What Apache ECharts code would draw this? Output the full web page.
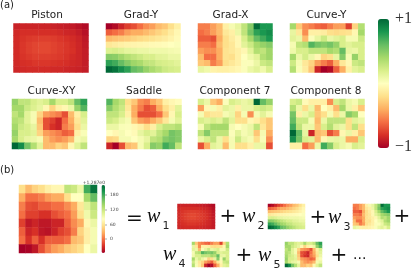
<!DOCTYPE html>
<html><head><meta charset="utf-8">
<style>html,body{margin:0;padding:0;background:#fff}#c{width:415px;height:268px;filter:blur(0.45px)}</style>
<script src="https://cdn.jsdelivr.net/npm/echarts@6/dist/echarts.min.js"></script>
</head><body><div id="c"></div>
<script>
const colours=['#a50026','#d73027','#f46d43','#fdae61','#fee08b','#ffffbf','#d9ef8b','#a6d96a','#66bd63','#1a9850','#006837'];
const panelTitles=['Piston','Grad-Y','Grad-X','Curve-Y','Curve-XY','Saddle','Component 7','Component 8'];
const colourbarTicks=['180','120','60','0'];
const piston=[
[-.86,-.85,-.85,-.85,-.85,-.85,-.86,-.87,-.88,-.89,-.92,-.95],
[-.83,-.81,-.81,-.81,-.81,-.81,-.81,-.82,-.84,-.85,-.88,-.93],
[-.82,-.79,-.77,-.76,-.75,-.75,-.76,-.78,-.8,-.82,-.85,-.9],
[-.82,-.78,-.75,-.73,-.72,-.72,-.74,-.76,-.78,-.81,-.84,-.89],
[-.82,-.78,-.75,-.73,-.72,-.72,-.74,-.76,-.78,-.8,-.84,-.88],
[-.82,-.79,-.77,-.75,-.75,-.75,-.76,-.77,-.79,-.82,-.84,-.88],
[-.83,-.81,-.8,-.78,-.78,-.78,-.79,-.8,-.81,-.83,-.84,-.88],
[-.84,-.83,-.82,-.82,-.82,-.82,-.83,-.83,-.84,-.85,-.86,-.88]];
const gradY=[
[-1,-.95,-.85,-.75,-.7,-.6,-.5,-.45,-.35,-.3,-.2,-.1],
[-.65,-.6,-.55,-.45,-.4,-.4,-.35,-.3,-.25,-.2,-.12,-.05],
[-.35,-.32,-.3,-.28,-.25,-.22,-.2,-.18,-.15,-.12,-.08,-.03],
[-.15,-.12,-.1,-.08,-.07,-.06,-.05,-.04,-.03,-.02,0,.02],
[.18,.2,.17,.13,.12,.1,.1,.08,.08,.08,.06,.05],
[.5,.48,.42,.35,.3,.25,.2,.2,.15,.14,.1,.1],
[.75,.7,.6,.5,.42,.38,.3,.28,.22,.2,.18,.15],
[1,.95,.85,.75,.6,.55,.45,.38,.32,.25,.22,.2]];
const gradX=[
[-.55,-.55,-.45,-.35,-.1,.05,.12,.3,.5,.98,.8,.8],
[-.6,-.55,-.45,-.35,-.15,-.1,.1,.3,.55,.75,.8,.85],
[-.65,-.65,-.7,-.4,-.2,-.12,-.05,.2,.4,.6,.7,.8],
[-.55,-.55,-.6,-.35,-.2,-.15,-.05,.15,.25,.4,.45,.5],
[-.45,-.5,-.5,-.4,-.18,-.15,-.1,-.05,.15,.35,.3,.42],
[-.35,-.6,-.6,-.4,-.18,-.2,-.1,0,.08,.15,.35,.42],
[-.3,-.35,-.55,-.45,-.2,-.15,-.1,.02,.02,.1,.25,.3],
[.12,.08,-.08,-.1,-.1,-.08,-.05,.02,.1,.15,.08,.2]];
const curveY=[
[.4,-.3,-.5,-.55,-.62,-.65,-.55,-.45,-.45,-.75,-.25,.35],
[.12,-.15,-.5,-.1,-.1,-.12,-.2,-.22,-.2,-.18,-.05,.4],
[.15,.1,-.35,.02,.12,.25,.1,.15,.2,.05,.05,.25],
[.05,.3,.35,.65,.55,.5,.55,.45,.2,.15,.2,.2],
[.08,.2,.2,.3,.3,.3,.4,.35,.6,.12,.1,.2],
[.4,.1,.22,.1,-.05,-.25,-.2,.12,.5,.05,.45,.2],
[.25,.05,-.15,-.25,-.45,-.55,-.65,-.4,-.15,-.05,.25,.3],
[.35,.03,-.12,-.3,-.85,-1,-.95,-.65,-.4,-.1,.15,.2]];
const curveXY=[
[.45,.3,.3,.2,.15,.2,.4,.2,.2,.3,.6,.75],
[.4,.4,.25,.18,.12,-.05,-.25,-.1,-.05,.1,.45,.65],
[.3,.4,.15,.05,-.25,-.45,-.5,-.55,-.7,-.35,-.1,.2],
[.35,.3,.15,.05,-.35,-.7,-.75,-.85,-.6,-.4,-.15,.15],
[.4,.25,.2,.12,-.3,-.7,-.8,-.85,-.55,-.45,-.2,.1],
[.45,.2,.2,.15,-.25,-.45,-.5,-.55,-.65,-.6,-.1,.03],
[.4,.2,.12,.1,.05,-.35,-.45,-.5,-.45,-.35,.05,.1],
[1,.85,.55,.35,.15,-.35,-.35,-.25,-.3,-.05,.15,.3]];
const saddle=[
[.65,.4,.3,-.2,-.3,-.5,-.55,-.4,-.3,-.1,-.05,-.02],
[.5,.35,.25,-.15,-.4,-.55,-.7,-.65,-.4,-.2,-.1,.15],
[.3,.3,.2,-.1,-.4,-.7,-.7,-.7,-.6,-.3,-.05,.2],
[.25,.2,.1,.05,-.3,-.45,-.5,-.4,-.3,-.15,.05,.15],
[.1,.1,.03,.02,-.05,-.1,-.2,-.1,.2,.3,.3,.35],
[0,-.05,.05,0,-.03,.12,.2,.15,.3,.4,.55,.5],
[-.25,-.22,.05,.05,0,.05,.12,.3,.35,.5,.55,.5],
[-.85,-1,-.7,-.35,-.3,.05,.2,.5,.45,.7,.6,.3]];
const component7=[
[.2,.1,-.3,-.4,.02,.2,.15,.1,.15,1,.6,.45],
[-.45,-.05,.05,-.1,.15,.1,-.1,.1,.1,.2,.25,.2],
[.05,-.2,-.15,-.15,.05,.1,-.25,.05,-.5,.05,.15,.05],
[.2,.15,.2,.15,.3,.15,-.2,-.2,-.05,-.1,-.2,-.3],
[.05,.3,.4,.4,.4,.05,0,.05,.1,.3,-.15,-.3],
[.3,.5,.3,.3,.3,.02,.15,.05,.1,-.3,.05,-.4],
[.1,.2,.3,.1,-.2,.05,.25,.1,.05,-.2,.03,-.5],
[-.7,-.4,.15,.1,-.35,.05,-.2,-.2,-.1,.1,.1,-.7]];
const component8=[
[.2,.25,-.03,-.1,-.1,-.1,-.5,.2,.3,.1,.05,.2],
[.35,.1,-.2,.1,-.35,0,-.1,-.35,.4,.1,-.1,-.3],
[.55,-.1,.1,.2,-.3,-.2,.05,-.2,.1,.5,.4,0],
[.6,.25,.25,.05,-.35,.1,.3,.3,.3,-.2,.15,.1],
[.7,.3,.1,.1,-.3,.2,.35,.15,.1,-.2,.3,-.2],
[1,.6,.12,-.85,-.35,-.3,-.7,-.55,-.05,.1,-.1,-.3],
[.85,.55,.2,.15,-.35,-.05,.1,.12,.1,-.4,-.4,.2],
[-.1,-.1,-.6,-.45,.1,.7,.5,.2,.1,.05,.2,.15]];
const field=[
[54,33,47,54,68,75,75,124,117,96,179,214],
[26,-1,-1,6,19,26,26,54,82,82,138,165],
[6,-15,-18,-8,-8,-1,-1,12,26,61,103,124],
[-1,-22,-22,-29,-29,-15,-8,-1,19,54,93,117],
[-22,-43,-36,-43,-43,-36,-36,-8,12,26,75,96],
[-8,-36,-29,-43,-46,-36,-22,-15,6,47,68,89],
[-1,-29,-8,-29,-8,-8,-8,-1,33,40,68,89],
[-57,-54,-43,-15,6,19,26,40,47,54,82,96]];

const panels=[
 {m:piston,x:13.5,y:23.5,w:75,h:49},{m:gradY,x:106,y:23.5,w:74.5,h:49},{m:gradX,x:198,y:23.5,w:74.5,h:49},{m:curveY,x:290,y:23.5,w:74.5,h:49},
 {m:curveXY,x:12,y:99,w:75,h:50},{m:saddle,x:106.5,y:99,w:75,h:50},{m:component7,x:198,y:99,w:74.5,h:50},{m:component8,x:290,y:99,w:74.5,h:50},
 {m:piston,x:177.5,y:204,w:37.5,h:25},{m:gradY,x:268,y:204,w:37,h:25},{m:gradX,x:353,y:204,w:37,h:25},
 {m:curveY,x:192,y:242,w:37,h:25},{m:curveXY,x:285,y:242,w:37,h:25},
 {m:field,x:19,y:185,w:78,h:68}
];
const idx=Array.from({length:12},(_,i)=>i), idy=Array.from({length:8},(_,i)=>i);
const grid=[],xAxis=[],yAxis=[],series=[];
panels.forEach((p,i)=>{
 grid.push({left:p.x,top:p.y,width:p.w,height:p.h,show:false});
 xAxis.push({type:'category',gridIndex:i,data:idx,show:false});
 yAxis.push({type:'category',gridIndex:i,data:idy,inverse:true,show:false});
 const d=[];p.m.forEach((r,y)=>r.forEach((v,x)=>d.push([x,y,v])));
 series.push({type:'heatmap',xAxisIndex:i,yAxisIndex:i,data:d,silent:true,animation:false,progressive:0,emphasis:{disabled:true}});
});
const T=(text,x,y,size,o={})=>({type:'text',x,y,silent:true,style:Object.assign({text,fill:'#222',font:`${o.italic?'italic ':''}${size}px ${o.fam||'"DejaVu Sans"'}`,textAlign:o.a||'left',textVerticalAlign:'middle'},o.s||{})});
const gfx=[T('(a)',0,5,10),T('(b)',0,170,10)];
[[47,15],[141,15],[230.5,15],[326.5,15],[51.5,91.5],[144,91.5],[235,91.5],[326,91.5]].forEach((p,i)=>gfx.push(T(panelTitles[i],p[0],p[1],10.5,{a:'center'})));
gfx.push(T('+1',395,19,16,{fam:'"Liberation Serif"',s:{fill:'#333'}}),T('\u22121',395,147,16,{fam:'"Liberation Serif"',s:{fill:'#333'}}));
[195,210,225,239].forEach((y,i)=>{gfx.push({type:'line',silent:true,shape:{x1:105,y1:y,x2:107,y2:y},style:{stroke:'#555',lineWidth:.5}});gfx.push(T(colourbarTicks[i],110,y,4.5,{s:{fill:'#444'}}));});
gfx.push(T('+1.287e0',105,182.5,4.5,{a:'right',s:{fill:'#444'}}));
const M='"Liberation Serif"';
const W=(x,y,n)=>[T('w',x,y,20,{italic:true,fam:M,s:{fill:'#111'}}),T(n,x+15.5,y+9,11,{fam:'"DejaVu Sans"',s:{fill:'#222'}})];
const P=(x,y)=>T('+',x,y,20,{a:'center',s:{fill:'#111'}});
gfx.push(T('=',134.5,219,20,{a:'center',s:{fill:'#111'}}),...W(147,217,'1'),P(228,217),...W(242,217,'2'),P(318,218),...W(328,218,'3'),P(402,217),
 ...W(163,255,'4'),P(244,256),...W(258,256,'5'),P(339,256),T('...',353,255,14,{s:{fill:'#111'}}));
const option={animation:false,backgroundColor:'#fff',grid,xAxis,yAxis,series,graphic:{elements:gfx},
 visualMap:[
 {type:'continuous',min:-1,max:1,dimension:2,seriesIndex:[0,1,2,3,4,5,6,7,8,9,10,11,12],left:378,top:19,itemWidth:11,itemHeight:129,text:['',''],calculable:false,hoverLink:false,realtime:false,padding:0,inRange:{color:colours},handleSize:0,indicatorSize:0},
 {type:'continuous',min:-57,max:221,dimension:2,seriesIndex:[13],left:101.5,top:185,itemWidth:3.5,itemHeight:68,text:['',''],calculable:false,hoverLink:false,padding:0,inRange:{color:colours},handleSize:0,indicatorSize:0}
 ]};
echarts.init(document.getElementById('c'),null,{renderer:'canvas',width:415,height:268}).setOption(option);
</script></body></html>
